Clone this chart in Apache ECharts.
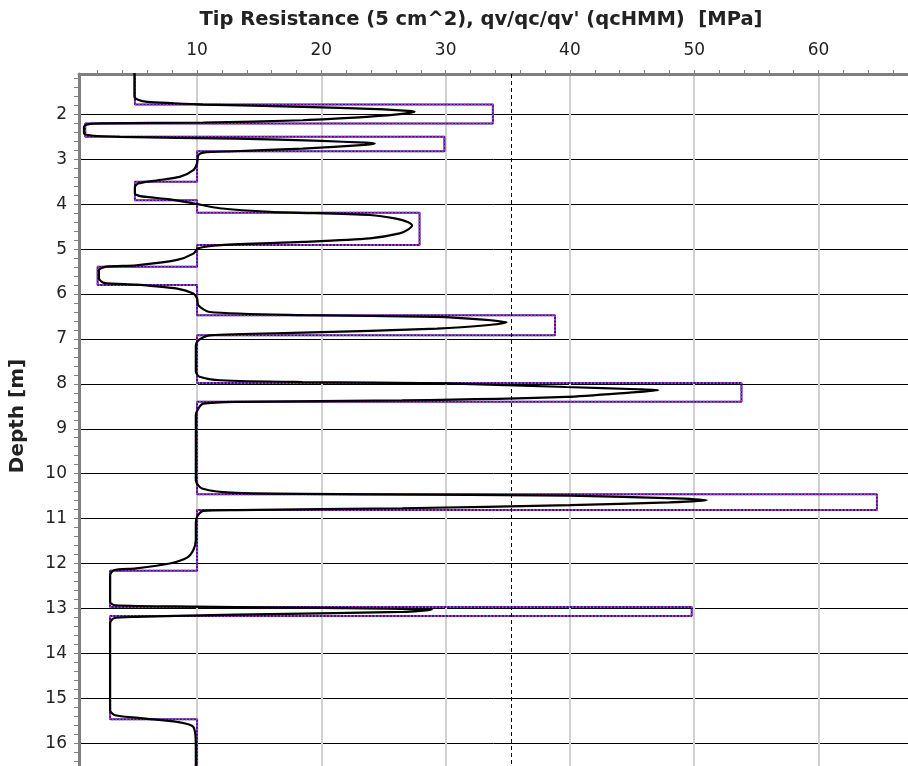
<!DOCTYPE html>
<html>
<head>
<meta charset="utf-8">
<script src="https://cdn.jsdelivr.net/npm/echarts@6/dist/echarts.min.js"></script>
<style>
  html, body { margin: 0; padding: 0; background: #fff; }
  #chart { width: 908px; height: 766px; }
</style>
</head>
<body>
<div id="chart"></div>
<script>
// qc curve (black): depth [m] and tip resistance [MPa]
const qcDepth = [1.08, 1.60, 1.68, 1.72, 1.75, 1.78, 1.83, 1.88, 1.92, 1.94, 1.99, 2.05, 2.13, 2.18, 2.20, 2.22, 2.27, 2.42, 2.47, 2.50,
  2.54, 2.59, 2.63, 2.65, 2.68, 2.76, 2.82, 2.85, 2.91, 3.09, 3.24, 3.39, 3.48, 3.54, 3.62, 3.76, 3.82, 3.89, 3.98, 4.09,
  4.17, 4.24, 4.32, 4.40, 4.47, 4.56, 4.65, 4.76, 4.84, 4.91, 4.98, 5.10, 5.24, 5.36, 5.39, 5.47, 5.65, 5.75, 5.79, 5.88,
  5.99, 6.10, 6.25, 6.40, 6.47, 6.51, 6.57, 6.63, 6.69, 6.77, 6.86, 6.92, 7.03, 7.15, 7.73, 7.84, 7.92, 7.96, 7.99, 8.07,
  8.12, 8.14, 8.19, 8.29, 8.37, 8.40, 8.44, 8.55, 8.70, 10.15, 10.33, 10.43, 10.46, 10.49, 10.55, 10.59, 10.64, 10.70, 10.77, 10.81,
  10.83, 10.96, 11.10, 11.48, 11.70, 11.87, 12.00, 12.11, 12.15, 12.26, 12.86, 12.93, 12.96, 12.99, 13.03, 13.08, 13.14, 13.19, 13.22, 13.33,
  15.27, 15.38, 15.45, 15.53, 15.64, 16.08, 16.60];
const qcValue = [4.96, 4.96, 5.3, 6.0, 8.0, 10.5, 18.5, 24.5, 27.0, 27.5, 26.5, 23.9, 18.5, 10.5, 2.4, 1.2, 0.9, 0.9, 1.5, 3.8,
  13.2, 20.0, 23.5, 24.3, 23.5, 18.5, 13.0, 10.5, 10.1, 10.0, 9.7, 8.6, 6.5, 5.25, 5.0, 5.0, 5.4, 7.8, 9.7, 11.8,
  15.9, 23.9, 26.0, 27.0, 27.3, 27.0, 26.3, 23.9, 18.5, 11.9, 10.1, 9.7, 8.4, 5.1, 2.7, 2.1, 2.1, 2.5, 5.1, 8.4,
  9.7, 10.0, 10.1, 11.0, 18.5, 29.3, 33.0, 34.9, 33.5, 29.3, 18.5, 11.0, 10.1, 9.9, 9.9, 10.2, 11.9, 18.5, 30.0, 39.7,
  45.5, 47.1, 45.0, 39.7, 26.5, 13.2, 10.5, 10.1, 9.9, 9.9, 10.4, 13.2, 23.9, 40.0, 48.5, 51.0, 48.0, 40.0, 26.5, 13.2,
  10.5, 10.0, 9.9, 9.9, 9.7, 9.2, 7.8, 5.1, 3.3, 3.0, 3.0, 3.4, 9.7, 20.0, 28.9, 26.6, 13.2, 5.1, 3.3, 3.0,
  3.0, 3.4, 5.7, 8.4, 9.7, 9.9, 9.9];

// qv layers: boundaries [m] and value per layer [MPa]
const qvBounds = [1.08, 1.78, 2.20, 2.50, 2.82, 3.50, 3.91, 4.19, 4.91, 5.39, 5.80, 6.47, 6.92, 7.98, 8.40, 10.46, 10.81, 12.16, 12.97, 13.17, 15.47, 16.60];
const qvValues = [5.0, 33.8, 1.0, 29.9, 10.0, 5.0, 10.0, 27.9, 10.0, 2.0, 10.0, 38.8, 10.0, 53.8, 10.0, 64.7, 10.0, 3.0, 49.8, 3.0, 10.0];

const refLine = 35.3;

const xMin = 0.5, xMax = 67.2;
const yMin = 1.1, yMax = 16.51;

const W = 908, H = 766;
const gLeft = 79, gTop = 74;
const pxX = (W - gLeft) / (xMax - xMin);
const pxY = (H - gTop) / (yMax - yMin);

const qcData = qcDepth.map((d, i) => [qcValue[i], d]);
const qvData = [];
qvValues.forEach((v, i) => {
  qvData.push([v, qvBounds[i]]);
  qvData.push([v, qvBounds[i + 1]]);
});

const font = 'DejaVu Sans';
const axisGray = '#808080';

const chart = echarts.init(document.getElementById('chart'));
chart.setOption({
  animation: false,
  backgroundColor: '#fff',
  textStyle: { fontFamily: font },
  title: {
    text: "Tip Resistance (5 cm^2), qv/qc/qv' (qcHMM)  [MPa]",
    left: 476,
    top: 5,
    textAlign: 'center',
    textStyle: { fontFamily: font, fontSize: 19.5, fontWeight: 'bold', color: '#222' }
  },
  graphic: [{
    type: 'text',
    x: 18,
    y: 416,
    rotation: Math.PI / 2,
    style: {
      text: 'Depth [m]',
      align: 'center',
      verticalAlign: 'middle',
      font: 'bold 20px "DejaVu Sans"',
      fill: '#222'
    }
  }],
  grid: [
    { left: gLeft, top: gTop, right: 0, bottom: 0 },
    { left: gLeft + (2 - xMin) * pxX, top: gTop, right: 0, bottom: 0 },
    { left: gLeft, top: gTop + (1.2 - yMin) * pxY, right: 0, bottom: 0 }
  ],
  xAxis: [
    {
      type: 'value', gridIndex: 0, position: 'top',
      min: xMin, max: xMax, splitNumber: 7,
      axisLine: { show: true, onZero: false, lineStyle: { color: axisGray, width: 3 } },
      axisTick: { show: false },
      axisLabel: { showMinLabel: false, showMaxLabel: false, fontSize: 17, color: '#222', margin: 15 },
      splitLine: { show: true, showMinLine: false, showMaxLine: false, lineStyle: { color: '#d0d0d0', width: 2 } }
    },
    {
      type: 'value', gridIndex: 1, position: 'top',
      min: 2, max: xMax, interval: 2,
      axisLine: { show: false, onZero: false },
      axisTick: { show: true, length: 4, lineStyle: { color: axisGray, width: 1 } },
      axisLabel: { show: false },
      splitLine: { show: false }
    },
    { type: 'value', gridIndex: 2, show: false, min: 0, max: 1 }
  ],
  yAxis: [
    {
      type: 'value', gridIndex: 0, inverse: true,
      min: yMin, max: yMax, splitNumber: 15,
      axisLine: { show: true, onZero: false, lineStyle: { color: axisGray, width: 3 } },
      axisTick: { show: false },
      axisLabel: { showMinLabel: false, showMaxLabel: false, fontSize: 17, color: '#222', margin: 12 },
      splitLine: { show: true, showMinLine: false, showMaxLine: false, lineStyle: { color: '#000', width: 1 } }
    },
    { type: 'value', gridIndex: 1, show: false, min: 0, max: 1 },
    {
      type: 'value', gridIndex: 2, inverse: true, position: 'left',
      min: 1.2, max: yMax, interval: 0.2,
      axisLine: { show: false, onZero: false },
      axisTick: { show: true, length: 5, lineStyle: { color: axisGray, width: 1 } },
      axisLabel: { show: false },
      splitLine: { show: false }
    }
  ],
  series: [
    {
      name: 'qv', type: 'line', xAxisIndex: 0, yAxisIndex: 0,
      data: qvData, showSymbol: false, z: 2,
      lineStyle: { color: '#2e1a86', width: 2 }
    },
    {
      name: "qv'", type: 'line', xAxisIndex: 0, yAxisIndex: 0,
      data: qvData, showSymbol: false, z: 3,
      lineStyle: { color: '#c43cc4', width: 2, type: [1.5, 2] }
    },
    {
      name: 'qc', type: 'line', xAxisIndex: 0, yAxisIndex: 0,
      data: qcData, showSymbol: false, smooth: 0.25, z: 4,
      lineStyle: { color: '#000', width: 2.2 },
      markLine: {
        silent: true, symbol: 'none', label: { show: false },
        lineStyle: { color: '#000', width: 1, type: [4, 3] },
        data: [{ xAxis: refLine }]
      }
    }
  ]
});
</script>
</body>
</html>
